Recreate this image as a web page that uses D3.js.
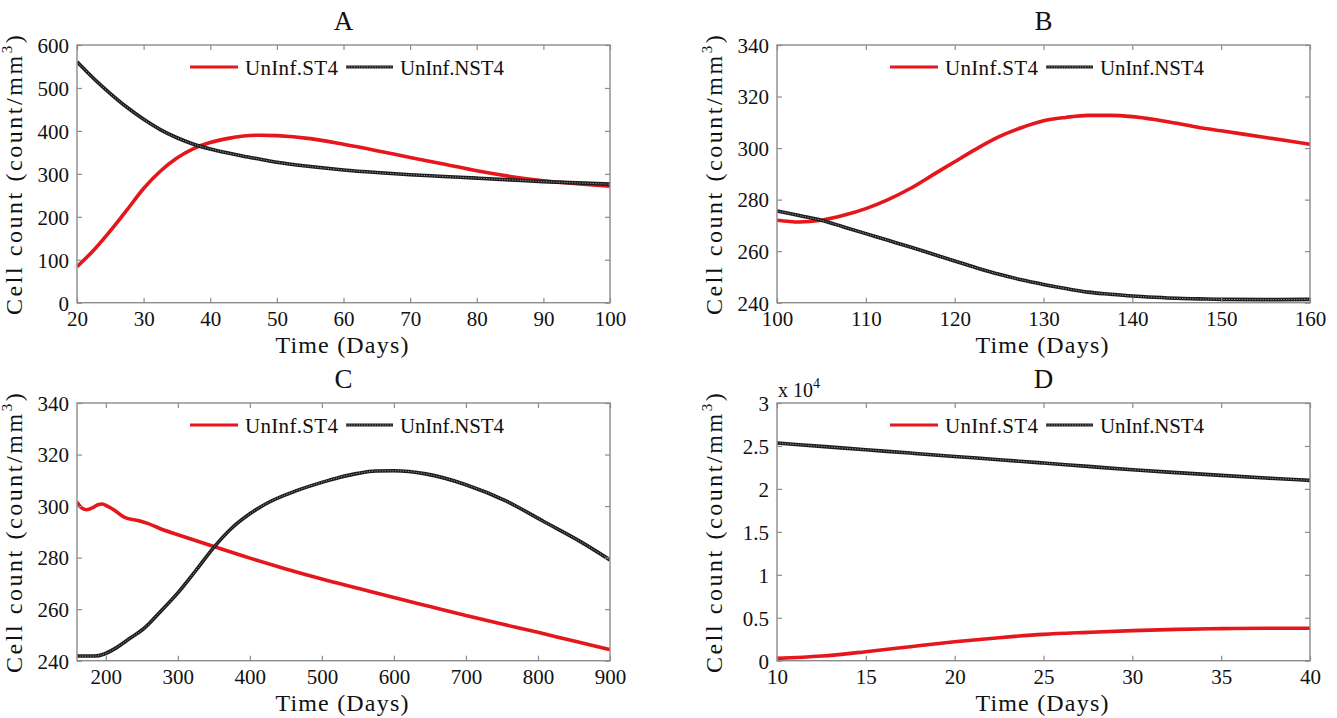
<!DOCTYPE html>
<html>
<head>
<meta charset="utf-8">
<script src="https://cdn.jsdelivr.net/npm/d3@7"></script>
<style>
  body { margin: 0; background: #fff; }
  svg { display: block; }
  svg text { font-family: "Liberation Serif", "Times New Roman", serif; }
</style>
</head>
<body>
<svg id="chart" width="1337" height="718"></svg>
<script>
// ---------------- data ----------------
const panelNames = ["A", "B", "C", "D"];
const seriesNames = ["UnInf.ST4", "UnInf.NST4"];

// Panel A: days 20-100
const daysA = [20, 22.5, 25, 27.5, 30, 32.5, 35, 37.5, 40, 42.5, 45, 47.5, 50, 55, 60, 65, 70, 75, 80, 85, 90, 95, 100];
const st4A  = [84, 122, 167, 216, 266, 306, 337, 359, 373, 382, 388, 390, 389, 382, 369, 354, 338, 323, 307, 294, 284, 277, 271];
const nst4A = [561, 522, 487, 455, 427, 403, 384, 369, 358, 349, 341, 334, 327, 317, 309, 303, 298, 294, 290, 286, 282, 279, 276];
const xTicksA = [20, 30, 40, 50, 60, 70, 80, 90, 100];
const yTicksA = [0, 100, 200, 300, 400, 500, 600];

// Panel B: days 100-160
const daysB = [100, 102.5, 105, 107.5, 110, 112.5, 115, 117.5, 120, 122.5, 125, 127.5, 130, 132.5, 135, 137.5, 140, 142.5, 145, 147.5, 150, 155, 160];
const st4B  = [272.0, 271.3, 272.0, 273.9, 276.5, 280.0, 284.3, 289.5, 294.7, 299.8, 304.4, 307.9, 310.6, 311.9, 312.7, 312.7, 312.2, 311.1, 309.6, 308.0, 306.7, 304.1, 301.5];
const nst4B = [275.6, 273.8, 272.0, 269.4, 266.8, 264.2, 261.6, 258.9, 256.2, 253.5, 251.0, 248.9, 247.1, 245.5, 244.1, 243.3, 242.6, 242.1, 241.7, 241.5, 241.3, 241.2, 241.3];
const xTicksB = [100, 110, 120, 130, 140, 150, 160];
const yTicksB = [240, 260, 280, 300, 320, 340];

// Panel C: days 160-900
const daysCst4  = [160, 166, 173, 182, 189, 195, 202, 212, 226, 246, 258, 275, 300, 350, 400, 450, 500, 550, 600, 650, 700, 750, 800, 850, 900];
const st4C      = [301.6, 299.4, 298.6, 299.4, 300.5, 300.8, 300.0, 298.4, 295.6, 294.3, 293.3, 291.3, 288.9, 284.3, 279.8, 275.6, 271.7, 268.1, 264.5, 261.0, 257.5, 254.2, 251.0, 247.6, 244.3];
const daysCnst4 = [160, 184, 198, 212, 235, 252, 275, 300, 325, 350, 375, 400, 425, 462, 500, 524, 550, 575, 600, 644, 700, 757, 808, 859, 900];
const nst4C     = [241.8, 241.8, 242.6, 244.6, 249.0, 252.3, 258.8, 266.3, 275.0, 284.0, 291.5, 297.0, 301.3, 305.7, 309.2, 311.1, 312.7, 313.6, 313.7, 312.5, 308.3, 301.8, 294.0, 286.2, 279.1];
const xTicksC = [200, 300, 400, 500, 600, 700, 800, 900];
const yTicksC = [240, 260, 280, 300, 320, 340];

// Panel D: days 10-40 (cells in units of count/mm^3)
const daysD = [10, 12.5, 15, 17.5, 20, 22.5, 25, 27.5, 30, 32.5, 35, 37.5, 40];
const st4D  = [270, 540, 1050, 1630, 2200, 2680, 3070, 3300, 3500, 3650, 3730, 3770, 3770];
const nst4D = [25340, 24950, 24560, 24170, 23780, 23400, 23010, 22620, 22230, 21890, 21570, 21270, 20990];
const xTicksD = [10, 15, 20, 25, 30, 35, 40];
const yTicksD = [0, 5000, 10000, 15000, 20000, 25000, 30000];

// ---------------- layout & style ----------------
const FONT = "'Liberation Serif', 'Times New Roman', serif";
const RED = "#e5171c";
const AXIS_GREY = "#8c8c8c";
const PW = 533, PH = 257.7;

const panels = [
  { name: panelNames[0], left: 77,  top: 45,  xDomain: [20, 100],  yDomain: [0, 600],
    xTicks: xTicksA, yTicks: yTicksA, d1: daysA, v1: st4A, d2: daysA, v2: nst4A, yFmt: d3.format("d") },
  { name: panelNames[1], left: 777, top: 45,  xDomain: [100, 160], yDomain: [240, 340],
    xTicks: xTicksB, yTicks: yTicksB, d1: daysB, v1: st4B, d2: daysB, v2: nst4B, yFmt: d3.format("d") },
  { name: panelNames[2], left: 77,  top: 403, xDomain: [160, 900], yDomain: [240, 340],
    xTicks: xTicksC, yTicks: yTicksC, d1: daysCst4, v1: st4C, d2: daysCnst4, v2: nst4C, yFmt: d3.format("d") },
  { name: panelNames[3], left: 777, top: 403, xDomain: [10, 40],   yDomain: [0, 30000],
    xTicks: xTicksD, yTicks: yTicksD, d1: daysD, v1: st4D, d2: daysD, v2: nst4D,
    yFmt: v => d3.format("~g")(v / 1e4), multiplier: true }
];

const svg = d3.select("#chart");

// widen a text run with letter spacing until it spans the given width
function spread(sel, target) {
  const node = sel.node();
  const w = node.getComputedTextLength();
  const n = node.textContent.length;
  if (n > 1) sel.style("letter-spacing", ((target - w) / (n - 1)).toFixed(2) + "px");
}

function txt(sel, size) {
  return sel.style("font-family", FONT).style("font-size", size + "px").attr("fill", "#111");
}

function drawBlackLine(g, pathD, width) {
  g.append("path").attr("d", pathD).attr("fill", "none")
    .attr("stroke", "#1c1c1c").attr("stroke-width", width);
  g.append("path").attr("d", pathD).attr("fill", "none")
    .attr("stroke", "#9a9a9a").attr("stroke-width", 1)
    .attr("stroke-dasharray", "1.2 1.4");
}

panels.forEach((p, i) => {
  const g = svg.append("g").attr("transform", `translate(${p.left},${p.top})`);
  const x = d3.scaleLinear().domain(p.xDomain).range([0, PW]);
  const y = d3.scaleLinear().domain(p.yDomain).range([PH, 0]);
  const T = 5;

  // clip region for the curves
  const clipId = "clip" + i;
  g.append("clipPath").attr("id", clipId)
    .append("rect").attr("width", PW).attr("height", PH);

  // curves
  const line = d3.line().x(d => x(d[0])).y(d => y(d[1])).curve(d3.curveMonotoneX);
  const lines = g.append("g").attr("clip-path", `url(#${clipId})`);
  lines.append("path")
    .attr("d", line(p.d1.map((d, k) => [d, p.v1[k]])))
    .attr("fill", "none").attr("stroke", RED).attr("stroke-width", 3.6)
    .attr("stroke-linejoin", "round");
  drawBlackLine(lines, line(p.d2.map((d, k) => [d, p.v2[k]])), 3.6);

  // axes (inward ticks on all four sides)
  const styleAxis = a => {
    a.attr("font-family", null).attr("font-size", null);
    a.select(".domain").remove();
    a.selectAll(".tick line").attr("stroke", AXIS_GREY).attr("stroke-width", 1.2);
    txt(a.selectAll("text"), 21);
  };
  const xb = g.append("g").attr("transform", `translate(0,${PH})`)
    .call(d3.axisBottom(x).tickValues(p.xTicks).tickSize(-T).tickSizeOuter(0).tickFormat(d3.format("d")));
  styleAxis(xb);
  xb.selectAll("text").attr("y", 23).attr("dy", 0);

  const yl = g.append("g")
    .call(d3.axisLeft(y).tickValues(p.yTicks).tickSize(-T).tickSizeOuter(0).tickFormat(p.yFmt));
  styleAxis(yl);
  yl.selectAll("text").attr("x", -8).attr("dy", "0.35em");

  const xt = g.append("g")
    .call(d3.axisTop(x).tickValues(p.xTicks).tickSize(-T).tickSizeOuter(0).tickFormat(""));
  styleAxis(xt);
  const yr = g.append("g").attr("transform", `translate(${PW},0)`)
    .call(d3.axisRight(y).tickValues(p.yTicks).tickSize(-T).tickSizeOuter(0).tickFormat(""));
  styleAxis(yr);

  g.append("rect").attr("width", PW).attr("height", PH)
    .attr("fill", "none").attr("stroke", AXIS_GREY).attr("stroke-width", 1.4);

  // panel title
  txt(g.append("text"), 27).attr("x", PW / 2).attr("y", -15)
    .attr("text-anchor", "middle").text(p.name);

  // x axis label
  const xlab = txt(g.append("text"), 24).attr("x", PW / 2 - 1).attr("y", PH + 50)
    .attr("text-anchor", "middle").text("Time (Days)");
  spread(xlab, 133);

  // y axis label
  const ylab = txt(g.append("text"), 24)
    .attr("transform", `translate(-55,${PH / 2}) rotate(-90)`)
    .attr("text-anchor", "middle");
  ylab.append("tspan").text("Cell count (count/mm");
  ylab.append("tspan").style("font-size", "15px").attr("dy", -10).text("3");
  ylab.append("tspan").attr("dy", 10).text(")");
  spread(ylab, 280);

  // exponent marker for the scaled axis
  if (p.multiplier) {
    const m = txt(g.append("text"), 20).attr("x", 1).attr("y", -6);
    m.append("tspan").text("x 10");
    m.append("tspan").style("font-size", "14px").attr("dy", -9).text("4");
  }

  // legend
  const lg = g.append("g").attr("transform", `translate(113,22)`);
  lg.append("line").attr("x1", 0).attr("x2", 48).attr("y1", 0).attr("y2", 0)
    .attr("stroke", RED).attr("stroke-width", 3.2);
  const t1 = txt(lg.append("text"), 21).attr("x", 55).attr("y", 7.5).text(seriesNames[0]);
  spread(t1, 93);
  drawBlackLine(lg, "M156,0H203", 3);
  const t2 = txt(lg.append("text"), 21).attr("x", 210).attr("y", 7.5).text(seriesNames[1]);
  spread(t2, 104);
});
</script>
</body>
</html>
